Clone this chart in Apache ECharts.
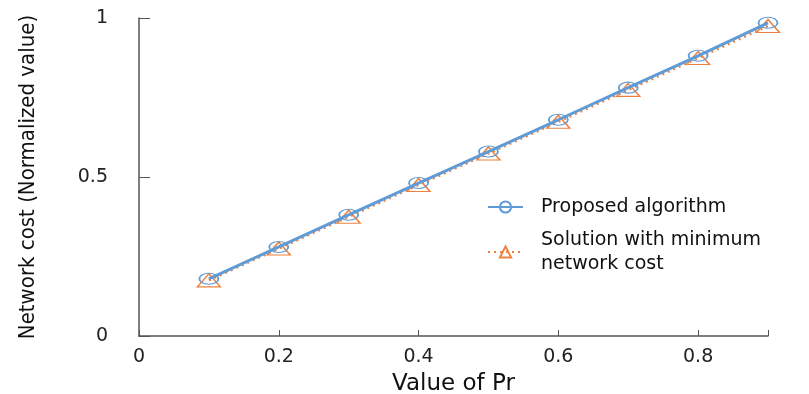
<!DOCTYPE html>
<html><head><meta charset="utf-8">
<script src="https://cdn.jsdelivr.net/npm/echarts@6/dist/echarts.min.js"></script>
<style>html,body{margin:0;padding:0;background:#fff}#c{width:809px;height:394px}</style>
</head><body><div id="c"></div>
<script>
const prValues = [0.1, 0.2, 0.3, 0.4, 0.5, 0.6, 0.7, 0.8, 0.9];
const proposed = [0.180, 0.280, 0.381, 0.481, 0.580, 0.680, 0.781, 0.881, 0.985];
const minCost  = [0.175, 0.275, 0.375, 0.475, 0.574, 0.674, 0.774, 0.874, 0.975];
const seriesNames = ['Proposed algorithm', 'Solution with minimum network cost'];
const legendLabels = {'Proposed algorithm':'Proposed algorithm','Solution with minimum network cost':'Solution with minimum\nnetwork cost'};
const xTicks = [0, 0.2, 0.4, 0.6, 0.8];
const yTicks = [0, 0.5, 1];

const blue = '#5f9bd6', orange = '#ee8140';
const narrow = '"Liberation Sans Narrow","DejaVu Sans Condensed","Roboto Condensed",Roboto,sans-serif';
const chart = echarts.init(document.getElementById('c'), null, {renderer:'canvas'});
chart.setOption({
  animation:false,
  backgroundColor:'#fff',
  grid:{left:139, right:41, top:18, bottom:58, containLabel:false, outerBoundsMode:'none'},
  legend:{
    orient:'vertical', left:482, top:190, itemGap:9,
    itemWidth:35, itemHeight:14,
    data:seriesNames,
    formatter:n=>legendLabels[n],
    textStyle:{fontFamily:'DejaVu Sans', fontSize:19, color:'#111', lineHeight:24, padding:[0,0,0,13]}
  },
  xAxis:{
    type:'value', min:0, max:0.9, interval:0.2,
    name:'Value of Pr', nameLocation:'middle', nameGap:37,
    nameTextStyle:{fontFamily:'DejaVu Sans', fontSize:23, color:'#111'},
    axisLine:{lineStyle:{color:'#555', width:1.5}},
    axisTick:{inside:true, length:6, lineStyle:{color:'#555'}},
    axisLabel:{margin:12, fontFamily:'DejaVu Sans', fontSize:19, color:'#222',
      formatter:v=>xTicks.includes(Math.round(v*10)/10)?String(Math.round(v*10)/10):''},
    splitLine:{show:false}
  },
  yAxis:{
    type:'value', min:0, max:1, interval:0.5,
    name:'Network cost (Normalized value)', nameLocation:'middle', nameGap:100,
    nameTextStyle:{fontFamily:narrow, fontSize:22, color:'#111'},
    axisLine:{show:true, lineStyle:{color:'#555', width:1.5}},
    axisTick:{show:true, inside:true, length:11, lineStyle:{color:'#555'}},
    axisLabel:{margin:31, fontFamily:'DejaVu Sans', fontSize:19, color:'#222',
      formatter:v=>yTicks.includes(v)?String(v):''},
    splitLine:{show:false}
  },
  series:[
    {
      name:seriesNames[1], type:'line',
      data:prValues.map((x,i)=>[x,minCost[i]]),
      symbol:'triangle', symbolSize:[23,13], showAllSymbol:true,
      lineStyle:{color:orange, width:2.5, type:[2,4]},
      itemStyle:{color:'rgba(255,255,255,0)', borderColor:orange, borderWidth:1.4},
      z:2
    },
    {
      name:seriesNames[0], type:'line',
      data:prValues.map((x,i)=>[x,proposed[i]]),
      symbol:'circle', symbolSize:[19,11], showAllSymbol:true,
      lineStyle:{color:blue, width:3},
      itemStyle:{color:'rgba(255,255,255,0)', borderColor:blue, borderWidth:1.4},
      z:3
    }
  ]
});
</script></body></html>
